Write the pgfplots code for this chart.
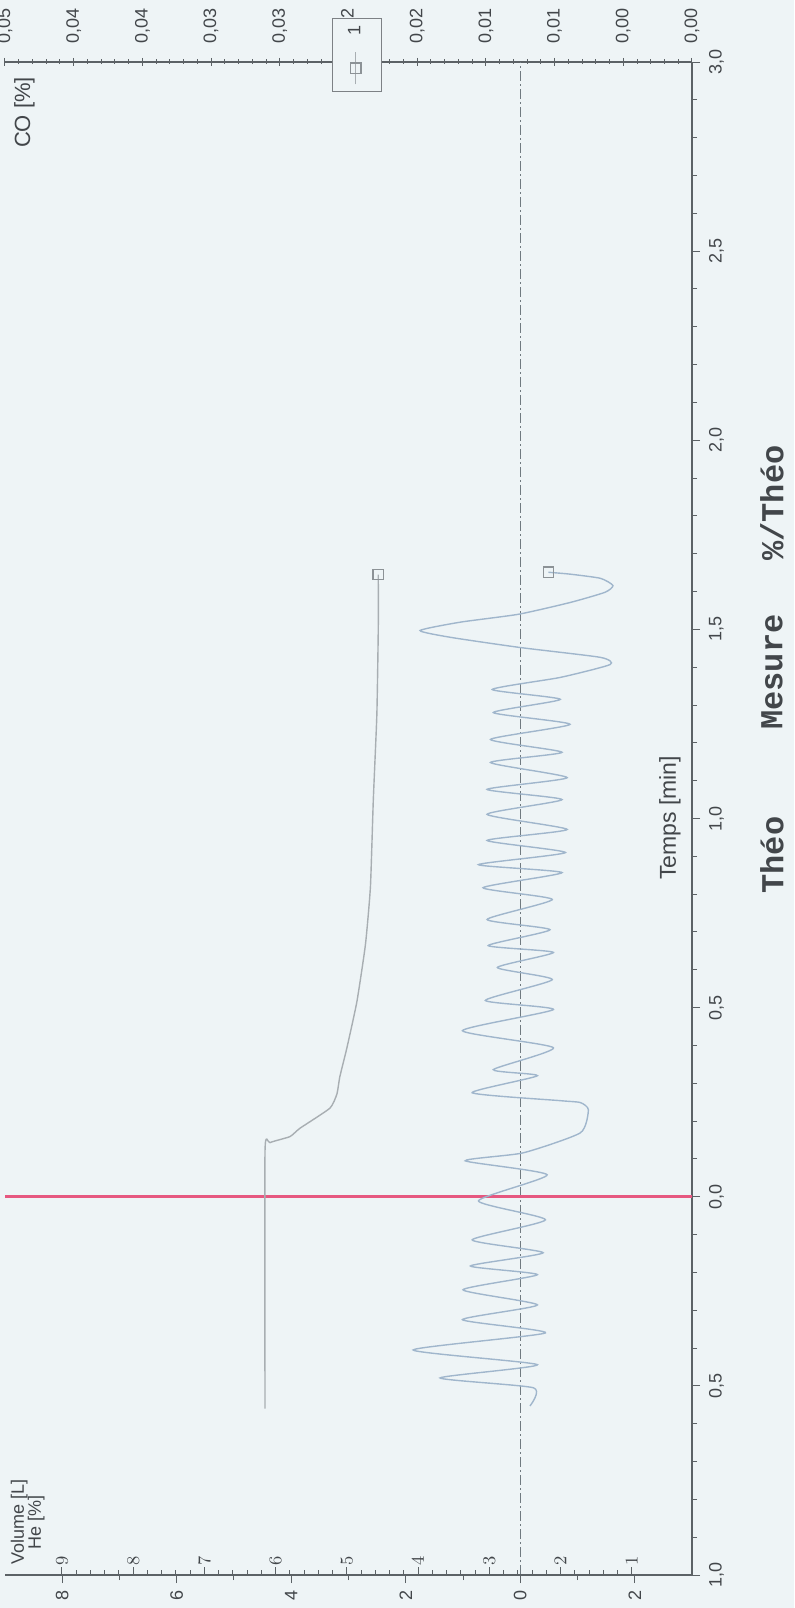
\documentclass[border=0pt]{standalone}
\usepackage{fontspec}
\setmainfont{Liberation Sans}
\newfontfamily\monofont{Liberation Mono}
\usepackage{pgfplots}
\usepackage{pgfplotstable}
\pgfplotsset{compat=1.18}

\definecolor{paper}{RGB}{238,244,246}
\definecolor{axisgray}{RGB}{92,98,102}
\definecolor{txtgray}{RGB}{66,70,74}
\definecolor{volblue}{RGB}{160,182,204}
\definecolor{hegray}{RGB}{168,174,178}
\definecolor{startline}{RGB}{230,88,128}
\definecolor{zeroline}{RGB}{112,122,128}
\definecolor{endmark}{RGB}{140,146,150}

% He washout, time [min] vs He [%]
\pgfplotstableread{
t      he
-0.560 6.15
0.120  6.15
0.143  6.08
0.159  5.80
0.181  5.66
0.234  5.24
0.272  5.14
0.317  5.10
0.394  5.00
0.516  4.86
0.667  4.74
0.820  4.67
1.048  4.63
1.275  4.58
1.503  4.56
1.645  4.56
}\hetable

% Breathing volume, time [min] vs volume [L]
\pgfplotstableread{
t      vol
-0.553 -0.17
-0.505 -0.23
-0.479 1.40
-0.444 -0.30
-0.405 1.87
-0.360 -0.44
-0.325 1.01
-0.286 -0.30
-0.246 1.00
-0.206 -0.30
-0.183 0.87
-0.148 -0.40
-0.114 0.84
-0.061 -0.44
-0.011 0.73
0.058  -0.47
0.095  0.96
0.116  -0.05
0.169  -1.05
0.230  -1.19
0.249  -1.05
0.254  -0.70
0.275  0.84
0.320  -0.30
0.336  0.47
0.394  -0.58
0.439  1.01
0.495  -0.58
0.519  0.61
0.574  -0.56
0.606  0.40
0.646  -0.58
0.664  0.56
0.706  -0.52
0.733  0.58
0.786  -0.56
0.817  0.65
0.857  -0.73
0.878  0.73
0.910  -0.79
0.942  0.58
0.971  -0.82
1.011  0.58
1.050  -0.73
1.077  0.58
1.108  -0.82
1.148  0.52
1.175  -0.73
1.209  0.52
1.249  -0.87
1.280  0.47
1.315  -0.70
1.341  0.49
1.373  -0.70
1.407  -1.57
1.426  -1.40
1.452  0.00
1.479  1.22
1.497  1.75
1.519  1.05
1.540  0.03
1.571  -0.87
1.598  -1.48
1.616  -1.62
1.635  -1.40
1.646  -0.87
1.651  -0.49
}\voltable

\pgfplotsset{
  panel/.style={
    scale only axis, width=343.5pt, height=756.5pt,
    at={(2.5pt,16.5pt)}, anchor=south west,
    ymin=-1, ymax=3, x dir=reverse,
    axis line style={axisgray, line width=0.6pt},
    tick style={axisgray, line width=0.5pt},
    major tick length=4pt, minor tick length=2.5pt,
    every tick label/.append style={font=\fontsize{9}{10}\selectfont, text=txtgray},
  },
}

\begin{document}
\begin{tikzpicture}
\fill[paper] (0,0) rectangle (397pt,804pt);
\useasboundingbox (0,0) rectangle (397pt,804pt);

% CO scale along the top edge
\begin{axis}[panel, xmin=0, xmax=0.05,
  axis x line*=top, axis y line=none,
  xtick={0,0.005,0.01,0.015,0.02,0.025,0.03,0.035,0.04,0.045,0.05},
  xticklabels={{0,00},{0,00},{0,01},{0,01},{0,02},{0,02},{0,03},{0,03},{0,04},{0,04},{0,05}},
  minor x tick num=4, tick align=center,
  xticklabel style={rotate=90, anchor=west},
  xticklabel shift=3.5pt,
]
\end{axis}

% volume scale (bottom) and time scale (right)
\begin{axis}[panel, xmin=-3, xmax=9,
  axis x line*=bottom, axis y line*=right,
  xtick={-2,0,2,4,6,8}, xticklabels={2,0,2,4,6,8},
  minor x tick num=1,
  ytick={-1,-0.5,0,0.5,1,1.5,2,2.5,3},
  yticklabels={{1,0},{0,5},{0,0},{0,5},{1,0},{1,5},{2,0},{2,5},{3,0}},
  minor y tick num=4,
  tick align=outside,
  xticklabel style={rotate=90, anchor=east},
  yticklabel style={rotate=90, anchor=north},
  yticklabel shift=1pt,
]
\addplot[zeroline, line width=0.6pt, dash pattern=on 5pt off 1.5pt on 1pt off 1.5pt]
  coordinates {(0,-1) (0,3)};
\addplot[startline, line width=1.3pt] coordinates {(-3,0) (9,0)};
\addplot[volblue, line width=0.7pt, smooth, tension=0.35] table[x=vol, y=t] {\voltable};
\addplot[endmark, only marks, mark=square, mark size=2.6pt, line width=0.6pt,
  skip coords between index={0}{66}] table[x=vol, y=t] {\voltable};
\end{axis}

% He scale on the bottom edge, inside; legend box straddling the top edge
\begin{axis}[panel, xmin=0.156, xmax=9.80,
  axis x line*=bottom, axis y line=none,
  xtick={1,2,3,4,5,6,7,8,9},
  minor x tick num=4, tick align=inside,
  xticklabel style={rotate=90, anchor=west},
  xticklabel shift=-1pt,
  legend style={at={(axis description cs:0.512,1.0046)}, anchor=center,
    fill=paper, draw=axisgray!80, inner xsep=8pt, inner ysep=3.5pt,
    nodes={inner sep=0pt}},
  legend image code/.code={
    \draw[hegray, line width=0.6pt] (0pt,-8pt) -- (0pt,8pt);
    \draw[endmark, line width=0.6pt, mark=square, mark size=2.6pt] plot coordinates {(0pt,0pt)};
    \node[rotate=90, text=txtgray, font=\fontsize{9}{10}\selectfont, inner sep=0pt]
      at (0pt,19pt) {1};
  },
]
\addplot[hegray, line width=0.7pt, smooth, tension=0.3] table[x=he, y=t] {\hetable};
\addlegendentry{}
\addplot[endmark, only marks, mark=square, mark size=2.6pt, line width=0.6pt,
  skip coords between index={0}{15}, forget plot] table[x=he, y=t] {\hetable};
\end{axis}

% axis titles
\node[rotate=90, anchor=north east, text=txtgray, font=\fontsize{11}{12}\selectfont]
  at (3.5pt,769pt) {CO [\%]};
\node[rotate=90, anchor=base west, text=txtgray, font=\fontsize{9}{10}\selectfont, inner sep=0pt]
  at (12pt,21.5pt) {Volume [L]};
\node[rotate=90, anchor=base west, text=txtgray, font=\fontsize{9}{10}\selectfont, inner sep=0pt]
  at (20.5pt,29pt) {He [\%]};
\node[rotate=90, text=txtgray, font=\fontsize{11.5}{12}\selectfont]
  at (335pt,395pt) {Temps [min]};

% column headings of the result table
\node[rotate=90, text=txtgray, font=\monofont\bfseries\fontsize{16}{16}\selectfont]
  at (386pt,376.5pt) {Théo};
\node[rotate=90, text=txtgray, font=\monofont\bfseries\fontsize{16}{16}\selectfont]
  at (386pt,468pt) {Mesure};
\node[rotate=90, text=txtgray, font=\monofont\bfseries\fontsize{16}{16}\selectfont]
  at (386pt,552.5pt) {\%/Théo};
\end{tikzpicture}
\end{document}
